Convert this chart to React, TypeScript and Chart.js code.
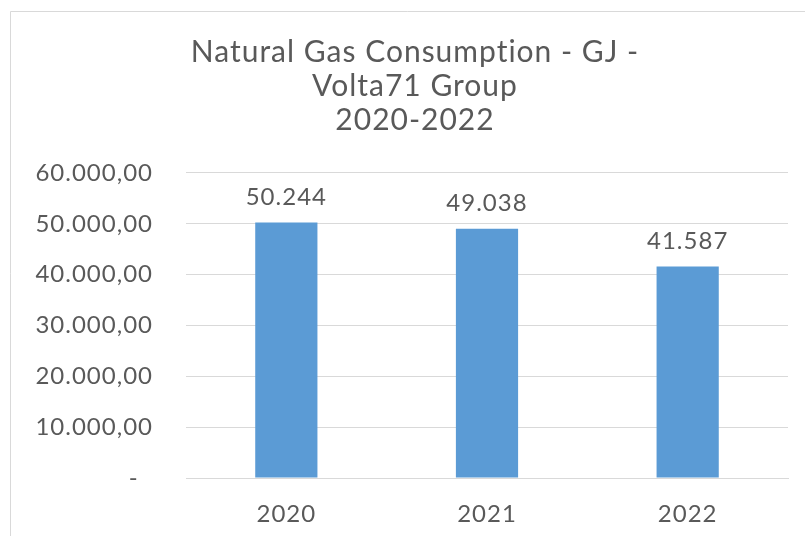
import React, { useEffect, useRef } from "react";
import { Chart, registerables } from "chart.js";

Chart.register(...registerables);

const categories = ["2020", "2021", "2022"];
const consumption = [50244, 49038, 41587];
const titleLines = ["Natural Gas Consumption - GJ -", "Volta71 Group", "2020-2022"];
const yTicks = [0, 10000, 20000, 30000, 40000, 50000, 60000];

const FONT = "Lato";
const TEXT = "#595959";
const GRID = "#d9d9d9";
const BAR = "#5b9bd5";

function groupThousands(n: number): string {
  const s = Math.round(Math.abs(n)).toString();
  return s.replace(/\B(?=(\d{3})+(?!\d))/g, ".");
}

function axisLabel(v: number): string {
  if (v === 0) return "-  ";
  return groupThousands(v) + ",00";
}

const frame = {
  id: "frame",
  beforeDraw(chart: any) {
    const { ctx, width, height } = chart;
    ctx.save();
    ctx.fillStyle = "#ffffff";
    ctx.fillRect(0, 0, width, height);
    ctx.strokeStyle = GRID;
    ctx.lineWidth = 1;
    ctx.beginPath();
    ctx.moveTo(10.5, height);
    ctx.lineTo(10.5, 11.5);
    ctx.lineTo(width, 11.5);
    ctx.stroke();
    ctx.restore();
    (ctx as any).letterSpacing = "1px";
  },
};

const valueLabels = {
  id: "valueLabels",
  afterDatasetsDraw(chart: any) {
    const { ctx } = chart;
    const meta = chart.getDatasetMeta(0);
    const data = chart.data.datasets[0].data as number[];
    ctx.save();
    ctx.font = `24px ${FONT}`;
    ctx.fillStyle = TEXT;
    ctx.textAlign = "center";
    ctx.textBaseline = "alphabetic";
    meta.data.forEach((bar: any, i: number) => {
      ctx.fillText(groupThousands(data[i]), bar.x, bar.y - 18);
    });
    ctx.restore();
  },
};

export default function App() {
  const ref = useRef<HTMLCanvasElement | null>(null);
  useEffect(() => {
    document.body.style.margin = "0";
    const chart = new Chart(ref.current as HTMLCanvasElement, {
      type: "bar",
      data: {
        labels: categories,
        datasets: [
          {
            data: consumption,
            backgroundColor: BAR,
            barPercentage: 0.31,
            categoryPercentage: 1,
          },
        ],
      },
      plugins: [frame, valueLabels],
      options: {
        responsive: false,
        animation: false,
        layout: { padding: { left: 42, right: 17, top: 0, bottom: 0 } },
        plugins: {
          legend: { display: false },
          tooltip: { enabled: false },
          title: {
            display: true,
            text: titleLines,
            color: TEXT,
            font: { family: FONT, size: 30, weight: "normal", lineHeight: 1.133 },
            padding: { top: 35, bottom: 36 },
          },
        },
        scales: {
          x: {
            grid: { display: false, drawTicks: false },
            border: { display: true, color: GRID, width: 1 },
            ticks: { color: TEXT, font: { family: FONT, size: 24 }, padding: 22 },
            afterFit(scale: any) {
              scale.height = 58;
            },
          },
          y: {
            min: 0,
            max: 60000,
            afterBuildTicks(scale: any) {
              scale.ticks = yTicks.map((v) => ({ value: v }));
            },
            grid: { color: GRID, lineWidth: 1, drawTicks: false },
            border: { display: false },
            ticks: {
              color: TEXT,
              font: { family: FONT, size: 24 },
              padding: 33,
              callback: (v: any) => axisLabel(Number(v)),
            },
            afterFit(scale: any) {
              scale.width = 144;
              scale._computeLabelArea = () => undefined;
            },
          },
        },
      },
    });
    return () => chart.destroy();
  }, []);
  return (
    <div style={{ position: "absolute", left: 0, top: 0, width: 805, height: 536 }}>
      <canvas ref={ref} width={805} height={536} />
    </div>
  );
}
